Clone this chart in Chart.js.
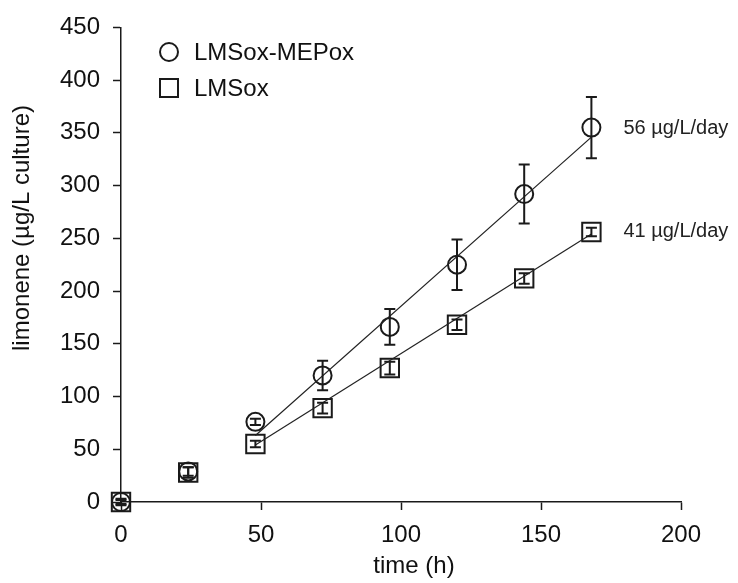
<!DOCTYPE html>
<html>
<head>
<meta charset="utf-8">
<script src="https://cdn.jsdelivr.net/npm/chart.js@4/dist/chart.umd.min.js"></script>
<style>
  html, body { margin: 0; padding: 0; background: #fff; }
  #wrap { width: 738px; height: 583px; position: relative; }
</style>
</head>
<body>
<div id="wrap"><canvas id="c"></canvas></div>
<script>
// time points (h)
const time = [0, 24, 48, 72, 96, 120, 144, 168];

// limonene titers (ug/L culture) and their error bars
const mepox = [0, 29, 76, 120, 166, 225, 292, 355];
const mepoxErr = [3, 4, 3, 14, 17, 24, 28, 29];
const lmsox = [0, 28, 55, 89, 127, 168, 212, 256];
const lmsoxErr = [2, 5, 3, 5, 6, 5, 5, 4];

// linear fits over 48-168 h
const fitTime = [48, 168];
const mepoxFit = [63, 346];
const lmsoxFit = [54, 254];

const rateLabels = ['56 \u00b5g/L/day', '41 \u00b5g/L/day'];
const seriesNames = ['LMSox-MEPox', 'LMSox'];

const ink = '#1a1a1a';
const FONT = 'Arial, "Liberation Sans", Helvetica, sans-serif';

const pts = (xs, ys) => xs.map((x, i) => ({ x: x, y: ys[i] }));

const errorBars = {
  id: 'errorBars',
  afterDatasetsDraw(chart) {
    const { ctx, scales: { x, y } } = chart;
    const sets = [[mepox, mepoxErr], [lmsox, lmsoxErr]];
    ctx.save();
    ctx.strokeStyle = ink;
    ctx.lineWidth = 2;
    sets.forEach(([vals, errs]) => {
      vals.forEach((v, i) => {
        const px = x.getPixelForValue(time[i]);
        const top = y.getPixelForValue(v + errs[i]);
        const bot = y.getPixelForValue(v - errs[i]);
        ctx.beginPath();
        ctx.moveTo(px, top); ctx.lineTo(px, bot);
        ctx.moveTo(px - 5.5, top); ctx.lineTo(px + 5.5, top);
        ctx.moveTo(px - 5.5, bot); ctx.lineTo(px + 5.5, bot);
        ctx.stroke();
      });
    });
    ctx.restore();
  }
};

const extras = {
  id: 'extras',
  afterDraw(chart) {
    const { ctx, scales: { x, y } } = chart;
    ctx.save();
    ctx.fillStyle = '#111';
    ctx.strokeStyle = ink;
    ctx.lineWidth = 2;

    // legend
    ctx.beginPath();
    ctx.arc(169, 52, 9, 0, Math.PI * 2);
    ctx.stroke();
    ctx.strokeRect(160, 79, 18, 18);
    ctx.font = '24px ' + FONT;
    ctx.textBaseline = 'middle';
    ctx.textAlign = 'left';
    ctx.fillText(seriesNames[0], 194, 53);
    ctx.fillText(seriesNames[1], 194, 89);

    // rate labels next to last points
    ctx.font = '20px ' + FONT;
    ctx.fillStyle = '#222';
    const lastX = x.getPixelForValue(time[time.length - 1]) + 32;
    ctx.fillText(rateLabels[0], lastX, y.getPixelForValue(mepox[mepox.length - 1]) + 1);
    ctx.fillText(rateLabels[1], lastX, y.getPixelForValue(lmsox[lmsox.length - 1]) - 1);

    // x axis title
    ctx.font = '24px ' + FONT;
    ctx.fillStyle = '#111';
    ctx.textAlign = 'center';
    ctx.fillText('time (h)', 414, 566);

    // y axis title
    ctx.translate(22, 228);
    ctx.rotate(-Math.PI / 2);
    ctx.fillText('limonene (\u00b5g/L culture)', 0, 0);
    ctx.restore();
  }
};

new Chart(document.getElementById('c'), {
  type: 'scatter',
  data: {
    datasets: [
      {
        label: seriesNames[0] + ' fit',
        data: pts(fitTime, mepoxFit),
        showLine: true,
        borderColor: '#222',
        borderWidth: 1.2,
        pointRadius: 0,
        clip: false
      },
      {
        label: seriesNames[1] + ' fit',
        data: pts(fitTime, lmsoxFit),
        showLine: true,
        borderColor: '#222',
        borderWidth: 1.2,
        pointRadius: 0,
        clip: false
      },
      {
        label: seriesNames[0],
        data: pts(time, mepox),
        pointStyle: 'circle',
        pointRadius: 9,
        pointBorderWidth: 2,
        pointBorderColor: ink,
        pointBackgroundColor: 'rgba(0,0,0,0)',
        clip: false
      },
      {
        label: seriesNames[1],
        data: pts(time, lmsox),
        pointStyle: 'rect',
        pointRadius: 13,
        pointBorderWidth: 2,
        pointBorderColor: ink,
        pointBackgroundColor: 'rgba(0,0,0,0)',
        clip: false
      }
    ]
  },
  options: {
    responsive: true,
    maintainAspectRatio: false,
    animation: false,
    layout: { padding: { top: 22, right: 57, left: 0, bottom: 0 } },
    plugins: {
      legend: { display: false },
      tooltip: { enabled: false }
    },
    scales: {
      x: {
        type: 'linear',
        min: 0,
        max: 200,
        afterFit: (s) => { s.height = 81; },
        ticks: { stepSize: 50, color: '#111', padding: 11, font: { family: FONT, size: 24 } },
        grid: { drawOnChartArea: false, tickLength: 8, color: ink, tickWidth: 1.5 },
        border: { color: ink, width: 1.5 }
      },
      y: {
        type: 'linear',
        min: 0,
        max: 450,
        afterFit: (s) => { s.width = 121; },
        ticks: { stepSize: 50, color: '#111', padding: 13, font: { family: FONT, size: 24 } },
        grid: { drawOnChartArea: false, tickLength: 8, color: ink, tickWidth: 1.5 },
        border: { color: ink, width: 1.5 }
      }
    }
  },
  plugins: [errorBars, extras]
});
</script>
</body>
</html>
